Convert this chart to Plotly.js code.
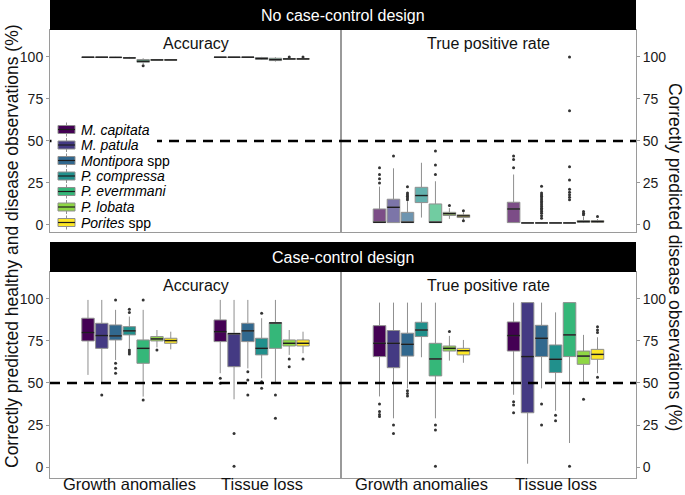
<!DOCTYPE html>
<html>
<head>
<meta charset="utf-8">
<script src="https://cdn.plot.ly/plotly-3.0.1.min.js"></script>
<style>html,body{margin:0;padding:0;background:#fff;}#chart{width:685px;height:495px;}</style>
</head>
<body>
<div id="chart"></div>
<script>
// ---------------- DATA ----------------
const categories = ['Growth anomalies', 'Tissue loss'];
const speciesLabels = ['<i>M. capitata</i>', '<i>M. patula</i>', '<i>Montipora</i> spp', '<i>P. compressa</i>', '<i>P. evermmani</i>', '<i>P. lobata</i>', '<i>Porites</i> spp'];
const speciesColors = ['#440154', '#443A83', '#31688E', '#21908C', '#35B779', '#8FD744', '#FDE725'];
const yTicks = [0, 25, 50, 75, 100];
const threshold = 50;

// box stats per species: [lower whisker, q1, median, q3, upper whisker]
// No case-control design, accuracy
const noccAccGA = [[99.6,99.7,99.8,99.9,100],[99.6,99.7,99.8,99.9,100],[99.4,99.6,99.7,99.8,100],[98.8,99.3,99.4,99.5,100],[95.6,96.8,97.4,98.4,99.2],[97.8,98.0,98.2,98.4,98.6],[97.8,98.0,98.2,98.4,98.6]];
const noccAccTL = [[99.6,99.7,99.8,99.9,100],[99.6,99.7,99.8,99.9,100],[99.6,99.7,99.8,99.9,100],[98.2,98.6,99.0,99.6,100],[97.2,97.8,98.4,99.2,99.8],[98.4,98.6,98.8,99.0,99.4],[98.4,98.6,98.8,99.0,99.4]];
const noccAccGAOut = [[],[],[],[],[94.8],[],[]];
const noccAccTLOut = [[],[],[],[],[],[100],[100]];
// No case-control design, true positive rate
const noccTprGA = [[1.4,1.4,1.6,9.5,22.8],[1.4,1.4,10.5,15.3,33.7],[1.4,1.4,1.6,7.5,14],[4.4,13.3,17.5,22.4,37],[1.4,1.4,1.6,12.5,26],[3.6,5.6,6.7,7.5,10],[3,4.4,5.4,6,7.5]];
const noccTprTL = [[1.4,1.4,9.5,13.5,30],[1.2,1.2,1.2,1.2,1.2],[1.2,1.2,1.2,1.2,1.2],[1.2,1.2,1.2,1.2,1.2],[1.2,1.2,1.2,1.2,1.2],[1.2,1.6,2,2.6,5],[1.2,1.6,2,2.6,3.5]];
const noccTprGAOut = [[25,27.5,30,34],[41],[15,16,17,18,19,22.8],[],[30,35.7,44],[11.5],[8.5,2.5]];
const noccTprTLOut = [[34,39,41],[],[4,5.5,7,8,9,10,11,12,13,14,15,16,17,18,19,23],[],[15,16.5,18,19.5,21.2,26.8,34.7,67.9,100],[6,7,8],[5]];
// Case-control design, accuracy
const ccAccGA = [[54.8,75,80,88.5,99.4],[49.8,70.6,78.2,85.5,99.4],[63.7,75.6,78,84.5,93.5],[70.6,78.6,81,83.5,89.5],[41.9,61.7,70.6,75.6,93.5],[71.2,75,76.2,77.6,81.5],[70,73.6,75.2,76.6,80.5]];
const ccAccTL = [[55.8,74.6,80.5,87.5,99.4],[40.3,59.7,79.3,79.6,99.4],[58.7,74.6,81,85.5,99.4],[52.8,66.7,70.6,76.6,88.5],[49.8,70.6,85.7,85.9,99.4],[66.7,72,73.6,75.6,81.5],[67.7,72,73.6,75.6,80.5]];
const ccAccGAOut = [[],[42.9],[99.4,61.7,58.7,55.8],[91.9,93.8,69.6,68.5,67.3],[99.4,39.9],[69.6],[]];
const ccAccTLOut = [[52.8,49.8],[20,0.5],[56.7,51.8,42.9],[91.5,50.8,46.8],[42.9,29],[64.3,59.7],[64.3]];
// Case-control design, true positive rate
const ccTprGA = [[42,65.7,73.6,84.1,97.8],[29,59.1,73.6,81.2,97.8],[46.8,66,73,79.6,97.8],[65.3,77.6,81.5,86.1,97.8],[29,54.2,64.3,73.6,97.8],[63.3,69,70.6,72,78],[62,66.7,69.2,70.6,75.6]];
const ccTprTL = [[43,69,78.2,86.3,97.8],[2,32.3,65.7,97.8,97.8],[46.8,65.7,76.6,84.3,97.8],[33.5,56.2,64.1,72.6,92],[14.3,65.7,78.6,97.8,97.8],[49.4,61.1,66,69,78.6],[55.8,64.1,67,70,77.2]];
const ccTprGAOut = [[37.5,33,31.3,30],[25,20],[45.4,43.8,42.3],[],[25,22,0.5],[80.6],[]];
const ccTprTLOut = [[38.9,36.9,32.3],[],[37.5,25],[30.8,27.6],[0.5],[40.3],[80,81.5,83.5,53.4]];

const rowTitles = ['No case-control design', 'Case-control design'];
const panelTitles = ['Accuracy', 'True positive rate'];
const leftTitle = 'Correctly predicted healthy and disease observations (%)';
const rightTitle = 'Correctly predicted disease observations (%)';

// ---------------- BUILD ----------------
const W = 685, H = 495;
const mL = 50, mR = 49, mT = 0, mB = 17;
const pw = W - mL - mR, ph = H - mT - mB;
const px2x = p => (p - mL) / pw;
const py2y = p => (ph - (p - mT)) / ph;

const panels = [
  {stats: [noccAccGA, noccAccTL], out: [noccAccGAOut, noccAccTLOut], xa: 'x', ya: 'y', alpha: 0.7},
  {stats: [noccTprGA, noccTprTL], out: [noccTprGAOut, noccTprTLOut], xa: 'x2', ya: 'y2', alpha: 0.7},
  {stats: [ccAccGA, ccAccTL], out: [ccAccGAOut, ccAccTLOut], xa: 'x3', ya: 'y3', alpha: 1},
  {stats: [ccTprGA, ccTprTL], out: [ccTprGAOut, ccTprTLOut], xa: 'x4', ya: 'y4', alpha: 1}
];

function rgba(hex, a) {
  const r = parseInt(hex.slice(1,3),16), g = parseInt(hex.slice(3,5),16), b = parseInt(hex.slice(5,7),16);
  return `rgba(${r},${g},${b},${a})`;
}

const nS = speciesLabels.length;
const dodge = 0.73, slot = dodge / nS, bw = slot * 0.9;
const traces = [];
panels.forEach(p => {
  for (let s = 0; s < nS; s++) {
    const off = (s - (nS - 1) / 2) * slot;
    const xs = categories.map((c, ci) => ci + off);
    const st = p.stats.map(arr => arr[s]);
    traces.push({
      type: 'box', x: xs,
      lowerfence: st.map(v => v[0]), q1: st.map(v => v[1]), median: st.map(v => v[2]),
      q3: st.map(v => v[3]), upperfence: st.map(v => v[4]),
      width: bw, whiskerwidth: 0, boxpoints: false,
      fillcolor: rgba(speciesColors[s], p.alpha),
      line: {color: '#8f8f8f', width: 1},
      xaxis: p.xa, yaxis: p.ya, showlegend: false, hoverinfo: 'skip'
    });
    const mx = [], my = [];
    st.forEach((v, ci) => { mx.push(xs[ci] - bw/2, xs[ci] + bw/2, null); my.push(v[2], v[2], null); });
    traces.push({type: 'scatter', mode: 'lines', x: mx, y: my, line: {color: '#1e1e1e', width: 1.4},
      xaxis: p.xa, yaxis: p.ya, showlegend: false, hoverinfo: 'skip'});
    const ox = [], oy = [];
    p.out.forEach((arr, ci) => arr[s].forEach(v => { ox.push(xs[ci]); oy.push(v); }));
    if (ox.length) traces.push({type: 'scatter', mode: 'markers', x: ox, y: oy,
      marker: {size: 3, color: '#333'}, xaxis: p.xa, yaxis: p.ya, showlegend: false, hoverinfo: 'skip'});
  }
});

const split = px2x(341);
const topDom = [py2y(232), py2y(30)];
const botDom = [py2y(478), py2y(272)];
const font = 'Liberation Sans, Arial, sans-serif';

function xax(dom) {
  return {domain: dom, range: [-0.6, 1.6], tickvals: categories.map((c, i) => i),
    showticklabels: false, ticks: '', showgrid: false, zeroline: false,
    showline: true, mirror: true, linecolor: '#9a9a9a', linewidth: 1, fixedrange: true};
}
function yax(dom, range, side, anchor) {
  return {domain: dom, range: range, tickvals: yTicks, side: side, anchor: anchor,
    ticks: 'outside', ticklen: 3, tickcolor: '#9a9a9a', showgrid: false, zeroline: false,
    showline: true, mirror: true, linecolor: '#9a9a9a', linewidth: 1,
    tickfont: {size: 14, color: '#1a1a1a', family: font}, fixedrange: true};
}

const shapes = [];
const annotations = [];
['', '2', '3', '4'].forEach(k => {
  shapes.push({type: 'line', xref: 'x' + k + ' domain', x0: 0, x1: 1, yref: 'y' + k, y0: threshold, y1: threshold,
    line: {color: '#000', width: 2.5, dash: '10px,7px'}, layer: 'above'});
});
[[py2y(30), 1, rowTitles[0]], [py2y(272), py2y(242), rowTitles[1]]].forEach(([y0, y1, t]) => {
  shapes.push({type: 'rect', xref: 'paper', yref: 'paper', x0: 0, x1: 1, y0: y0, y1: y1,
    fillcolor: '#000', line: {width: 0}, layer: 'above'});
  annotations.push({text: t, xref: 'paper', yref: 'paper', x: 0.5, y: (y0 + y1) / 2, showarrow: false,
    font: {size: 16, color: '#fff', family: font}, xanchor: 'center', yanchor: 'middle'});
});
['', '2', '3', '4'].forEach((k, i) => {
  annotations.push({text: panelTitles[i % 2], xref: 'x' + k + ' domain', yref: 'y' + k + ' domain', x: 0.5, y: 1,
    yshift: -3, xanchor: 'center', yanchor: 'top', showarrow: false, font: {size: 16, color: '#111', family: font}});
});
// x category labels under bottom panels
['3', '4'].forEach(k => {
  categories.forEach((c, ci) => {
    annotations.push({text: c, xref: 'x' + k, yref: 'y' + k + ' domain', x: ci, y: 0, yshift: 4, borderpad: 0,
      xanchor: 'center', yanchor: 'top', showarrow: false, font: {size: 16.5, color: '#111', family: font}});
  });
});
annotations.push({text: leftTitle, xref: 'paper', yref: 'paper', x: 0, xshift: -38, y: py2y(246), textangle: -90,
  showarrow: false, xanchor: 'center', yanchor: 'middle', font: {size: 17.5, color: '#111', family: font}});
annotations.push({text: rightTitle, xref: 'paper', yref: 'paper', x: 1, xshift: 39, y: py2y(257), textangle: 90,
  showarrow: false, xanchor: 'center', yanchor: 'middle', font: {size: 17.5, color: '#111', family: font}});

// manual legend
shapes.push({type: 'rect', xref: 'paper', yref: 'paper', x0: px2x(51.5), x1: px2x(157), y0: py2y(231), y1: py2y(120),
  fillcolor: '#fff', line: {width: 0}, layer: 'above'});
for (let s = 0; s < nS; s++) {
  const cy = 129.5 + s * 15.5;
  shapes.push({type: 'line', xref: 'paper', yref: 'paper', x0: px2x(66.5), x1: px2x(66.5), y0: py2y(cy + 7), y1: py2y(cy - 7),
    line: {color: '#8f8f8f', width: 1}, layer: 'above'});
  shapes.push({type: 'rect', xref: 'paper', yref: 'paper', x0: px2x(58), x1: px2x(75), y0: py2y(cy + 4), y1: py2y(cy - 4),
    fillcolor: speciesColors[s], line: {color: '#8f8f8f', width: 1}, layer: 'above'});
  shapes.push({type: 'line', xref: 'paper', yref: 'paper', x0: px2x(58), x1: px2x(75), y0: py2y(cy), y1: py2y(cy),
    line: {color: '#1e1e1e', width: 1.2}, layer: 'above'});
  annotations.push({text: speciesLabels[s], xref: 'paper', yref: 'paper', x: px2x(79), y: py2y(cy), xanchor: 'left',
    yanchor: 'middle', showarrow: false, font: {size: 14, color: '#000', family: font}});
}

const layout = {
  width: W, height: H, margin: {l: mL, r: mR, t: mT, b: mB}, paper_bgcolor: '#fff', plot_bgcolor: '#fff',
  showlegend: false, font: {family: font},
  xaxis: xax([0, split]), yaxis: yax(topDom, [-4.2, 116], 'left', 'x'),
  xaxis2: xax([split, 1]), yaxis2: yax(topDom, [-4.2, 116], 'right', 'x2'),
  xaxis3: xax([0, split]), yaxis3: yax(botDom, [-6.5, 116], 'left', 'x3'),
  xaxis4: xax([split, 1]), yaxis4: yax(botDom, [-6.5, 116], 'right', 'x4'),
  shapes: shapes, annotations: annotations
};
layout.xaxis.anchor = 'y'; layout.xaxis2.anchor = 'y2'; layout.xaxis3.anchor = 'y3'; layout.xaxis4.anchor = 'y4';

Plotly.newPlot('chart', traces, layout, {displayModeBar: false, staticPlot: true});
</script>
</body>
</html>
